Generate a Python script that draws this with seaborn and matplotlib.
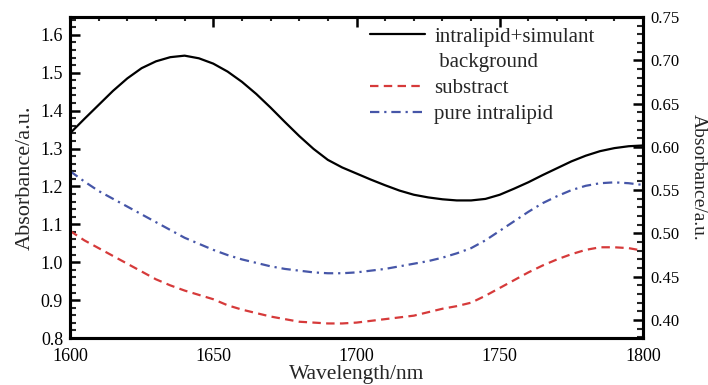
import numpy as np
import pandas as pd
import matplotlib
matplotlib.use("Agg")
import matplotlib.pyplot as plt
import seaborn as sns
from matplotlib.lines import Line2D
from matplotlib.ticker import MultipleLocator

wavelength = [1600, 1605, 1610, 1615, 1620, 1625, 1630, 1635, 1640, 1645, 1650,
              1655, 1660, 1665, 1670, 1675, 1680, 1685, 1690, 1695, 1700,
              1705, 1710, 1715, 1720, 1725, 1730, 1735, 1740, 1745, 1750,
              1755, 1760, 1765, 1770, 1775, 1780, 1785, 1790, 1795, 1800]
mixture = [1.340, 1.378, 1.415, 1.452, 1.485, 1.512, 1.530, 1.541, 1.545, 1.538, 1.524,
           1.503, 1.476, 1.444, 1.408, 1.370, 1.333, 1.299, 1.270, 1.250, 1.234,
           1.218, 1.203, 1.189, 1.178, 1.171, 1.166, 1.163, 1.163, 1.167, 1.178,
           1.194, 1.211, 1.230, 1.248, 1.266, 1.281, 1.293, 1.301, 1.306, 1.308]
substract = [0.503, 0.492, 0.483, 0.474, 0.465, 0.456, 0.447, 0.440, 0.434, 0.429, 0.424,
             0.417, 0.412, 0.408, 0.404, 0.401, 0.398, 0.397, 0.396, 0.396, 0.397,
             0.399, 0.401, 0.403, 0.405, 0.409, 0.413, 0.416, 0.420, 0.428, 0.437,
             0.446, 0.455, 0.463, 0.470, 0.476, 0.481, 0.484, 0.484, 0.483, 0.480]
pure = [0.572, 0.560, 0.549, 0.540, 0.531, 0.522, 0.513, 0.504, 0.495, 0.488, 0.481,
        0.475, 0.470, 0.466, 0.462, 0.459, 0.457, 0.455, 0.454, 0.454, 0.455,
        0.457, 0.459, 0.462, 0.465, 0.468, 0.472, 0.477, 0.483, 0.492, 0.503,
        0.514, 0.525, 0.535, 0.543, 0.550, 0.555, 0.558, 0.559, 0.558, 0.556]

labels = ["intralipid+simulant", " background", "substract", "pure intralipid"]
left_ticks = [0.8, 0.9, 1.0, 1.1, 1.2, 1.3, 1.4, 1.5, 1.6]
right_ticks = [0.40, 0.45, 0.50, 0.55, 0.60, 0.65, 0.70, 0.75]
x_ticks = [1600, 1650, 1700, 1750, 1800]

sns.set_theme(style="white")
plt.rcParams["font.family"] = ["Liberation Serif", "DejaVu Serif"]

df = pd.DataFrame({"wl": wavelength, "mix": mixture, "sub": substract, "pure": pure})

fig = plt.figure(figsize=(7.08, 3.85), dpi=100)
ax = fig.add_axes([70/708, 1-338/385, (643-70)/708, (338-17)/385])
ax2 = ax.twinx()

red = "#d63a3a"
blue = "#4656a8"
lw = 1.6
sns.lineplot(data=df, x="wl", y="mix", ax=ax, color="black", lw=lw)
sns.lineplot(data=df, x="wl", y="sub", ax=ax2, color=red, lw=lw)
sns.lineplot(data=df, x="wl", y="pure", ax=ax2, color=blue, lw=lw)
ax2.lines[0].set_dashes((3.8, 2.4))
ax2.lines[1].set_dashes((4.2, 2.2, 1.0, 2.2))

ax.set_xlim(1600, 1800)
ax.set_ylim(0.8, 1.647)
ax2.set_ylim(0.3792, 0.75)

ax.set_xticks(x_ticks)
ax.set_xticklabels([str(t) for t in x_ticks])
ax.set_yticks(left_ticks)
ax.set_yticklabels([f"{t:.1f}" for t in left_ticks])
ax2.set_yticks(right_ticks)
ax2.set_yticklabels([f"{t:.2f}" for t in right_ticks])
ax.xaxis.set_minor_locator(MultipleLocator(10))
ax.yaxis.set_minor_locator(MultipleLocator(0.02))
ax2.yaxis.set_minor_locator(MultipleLocator(0.01))

for a in (ax, ax2):
    for s in a.spines.values():
        s.set_linewidth(2.2)
        s.set_color("black")

ax.tick_params(axis="both", which="major", direction="in", length=7, width=1.8,
               labelsize=13, colors="black", pad=5)
ax.tick_params(axis="both", which="minor", direction="in", length=4, width=1.5)
ax.tick_params(axis="x", which="major", top=True, length=7, labelsize=13, pad=7)
ax.tick_params(axis="x", which="minor", top=True, length=3)
ax2.tick_params(axis="y", which="major", direction="in", length=7, width=1.8,
                labelsize=12, colors="black", pad=5)
ax2.tick_params(axis="y", which="minor", direction="in", length=4, width=1.5)

ax.set_xlabel("Wavelength/nm", fontsize=15.5, labelpad=0)
ax.set_ylabel("Absorbance/a.u.", fontsize=16, labelpad=4)
ax2.set_ylabel("Absorbance/a.u.", fontsize=14, rotation=270, labelpad=20)

handles = [Line2D([], [], color="black", lw=lw),
           Line2D([], [], color="none", lw=0),
           Line2D([], [], color=red, lw=lw, dashes=(3.8, 2.4)),
           Line2D([], [], color=blue, lw=lw, dashes=(4.2, 2.2, 1.0, 2.2))]
ax2.legend(handles, labels, loc="upper left", bbox_to_anchor=(370/708, 1-27/385),
           bbox_transform=fig.transFigure, frameon=False, fontsize=15,
           handlelength=2.65, handletextpad=0.43, labelspacing=0.3,
           borderpad=0, borderaxespad=0)

fig.savefig("out.png", dpi=100)
